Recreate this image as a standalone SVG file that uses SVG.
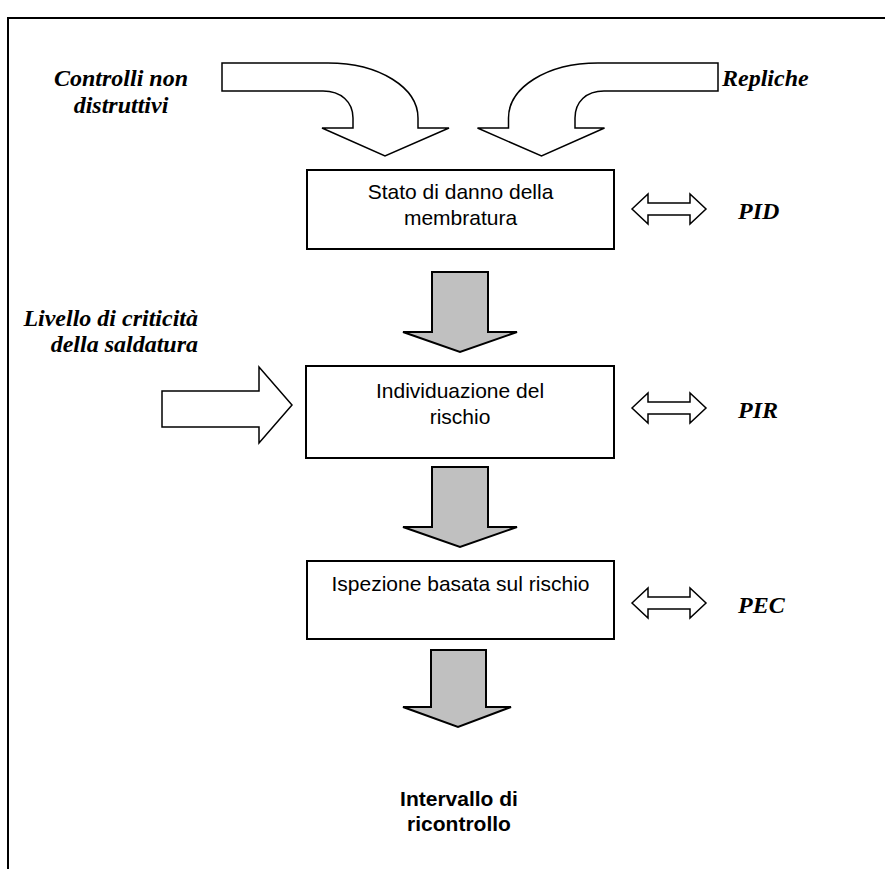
<svg xmlns="http://www.w3.org/2000/svg" width="885" height="869" viewBox="0 0 885 869">
<style>
.box{fill:#fff;stroke:#000;stroke-width:2}
.hollow{fill:#fff;stroke:#000;stroke-width:1.5;stroke-linejoin:miter}
.gray{fill:#c0c0c0;stroke:#000;stroke-width:2}
.lbl{font-family:"Liberation Serif",serif;font-weight:bold;font-style:italic;font-size:24px;fill:#000}
.btxt{font-family:"Liberation Sans",sans-serif;font-size:21px;fill:#000;text-anchor:middle}
.bold{font-weight:bold}
</style>
<rect width="885" height="869" fill="#fff"/>
<path d="M8,869 L8,18 L885,18" fill="none" stroke="#000" stroke-width="2"/>
<g id="connectors">
<path class="hollow" d="M222,63 L328,63 C380,63 418,88 418,118 L418,128 L449,128 L385,156 L322,128 L353,128 L353,118 C353,102 341,91 323,91 L222,91 Z"/>
<path class="hollow" d="M718,63 L598,63 C546,63 508.5,88 508.5,118 L508.5,128 L477.5,128 L541.5,156 L604.5,128 L575,128 L575,118 C575,102 586,91 604,91 L718,91 Z"/>
<path class="hollow" d="M162,391 L259,391 L259,367 L292,405 L259,443 L259,427 L162,427 Z"/>
<path class="gray" d="M432,272 L488,272 L488,332 L517,332 L460,352 L403,332 L432,332 Z"/>
<path class="gray" d="M432,467 L488,467 L488,527 L517,527 L460,547 L403,527 L432,527 Z"/>
<path class="gray" d="M431,650 L486,650 L486,707 L511,707 L458,727 L403,707 L431,707 Z"/>
<path class="hollow" d="M632,209 L648,194 L648,203 L690,203 L690,194 L706,209 L690,224 L690,215 L648,215 L648,224 Z"/>
<path class="hollow" d="M632,408 L648,393 L648,402 L690,402 L690,393 L706,408 L690,423 L690,414 L648,414 L648,423 Z"/>
<path class="hollow" d="M632,603 L648,588 L648,597 L690,597 L690,588 L706,603 L690,618 L690,609 L648,609 L648,618 Z"/>
</g>
<g id="controlli">
<text class="lbl" x="121" y="86" text-anchor="middle">Controlli non</text>
<text class="lbl" x="121" y="113" text-anchor="middle">distruttivi</text>
</g>
<g id="repliche"><text class="lbl" x="722" y="86">Repliche</text></g>
<g id="livello">
<text class="lbl" x="198" y="326" text-anchor="end">Livello di criticità</text>
<text class="lbl" x="198" y="352" text-anchor="end">della saldatura</text>
</g>
<g id="stato">
<rect class="box" x="307" y="170" width="307" height="79"/>
<text class="btxt" x="460.5" y="199">Stato di danno della</text>
<text class="btxt" x="460.5" y="225">membratura</text>
</g>
<g id="rischio">
<rect class="box" x="306" y="366" width="308" height="92"/>
<text class="btxt" x="460" y="398">Individuazione del</text>
<text class="btxt" x="460" y="424">rischio</text>
</g>
<g id="ispezione">
<rect class="box" x="307" y="561" width="307" height="78"/>
<text class="btxt" x="460.5" y="591">Ispezione basata sul rischio</text>
</g>
<g id="pid"><text class="lbl" x="738" y="219">PID</text></g>
<g id="pir"><text class="lbl" x="738" y="418">PIR</text></g>
<g id="pec"><text class="lbl" x="738" y="613">PEC</text></g>
<g id="intervallo">
<text class="btxt bold" x="459" y="806">Intervallo di</text>
<text class="btxt bold" x="459" y="831">ricontrollo</text>
</g>
</svg>
